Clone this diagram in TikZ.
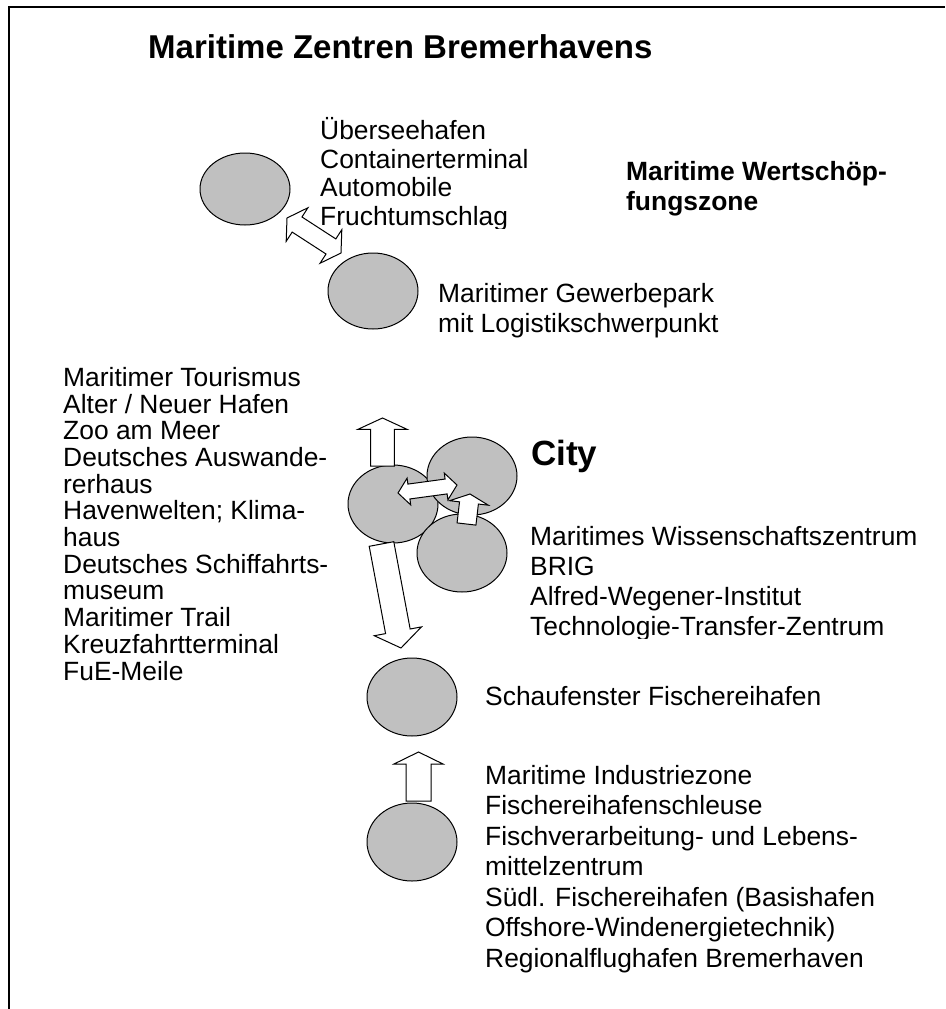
\documentclass[tikz,border=0pt]{standalone}
\usepackage{fontspec}
\setmainfont{Liberation Sans}
\usepackage{tikz}
\usetikzlibrary{shapes,positioning,calc}
\definecolor{zonegray}{HTML}{C0C0C0}

% hollow block arrow: from #1 to #2, shaft half width #3, head half width #4, head length #5
\newcommand{\hollowarrow}[5]{%
  \coordinate (ha-c) at ($(#2)!#5pt!(#1)$);
  \draw[blockarrow] ($(#1)!#3pt!90:(#2)$) -- ($(ha-c)!#3pt!90:(#2)$) -- ($(ha-c)!#4pt!90:(#2)$) -- (#2)
    -- ($(ha-c)!#4pt!-90:(#2)$) -- ($(ha-c)!#3pt!-90:(#2)$) -- ($(#1)!#3pt!-90:(#2)$) -- cycle;}
\newcommand{\hollowdarrow}[5]{%
  \coordinate (ha-a) at ($(#1)!#5pt!(#2)$);
  \coordinate (ha-b) at ($(#2)!#5pt!(#1)$);
  \draw[blockarrow] (#1) -- ($(ha-a)!#4pt!90:(#2)$) -- ($(ha-a)!#3pt!90:(#2)$) -- ($(ha-b)!#3pt!90:(#2)$)
    -- ($(ha-b)!#4pt!90:(#2)$) -- (#2) -- ($(ha-b)!#4pt!-90:(#2)$) -- ($(ha-b)!#3pt!-90:(#2)$)
    -- ($(ha-a)!#3pt!-90:(#2)$) -- ($(ha-a)!#4pt!-90:(#2)$) -- cycle;}

\begin{document}
\begin{tikzpicture}[x=1pt, y=-1pt,
  zonebox/.style={ellipse, draw, line width=1pt, fill=zonegray, minimum width=90pt, minimum height=78pt, inner sep=0pt},
  blockarrow/.style={draw, line width=1pt, fill=white, line join=miter},
  zonetext/.style={anchor=base west, align=left, inner sep=0pt, font=\fontsize{26.4}{30}\selectfont},
  listtext/.style={zonetext, font=\fontsize{26.4}{26.7}\selectfont}]
  \useasboundingbox (0,0) rectangle (945,1009);
  \draw [line width=2pt] (9,1009) -- (9,7) -- (945,7);

  \node [anchor=base west, inner sep=0pt, font=\fontsize{33}{38}\selectfont\bfseries] (title) at (148,58) {Maritime Zentren Bremerhavens};

  % zones
  \node [zonebox, minimum height=72pt] (uebersee) at (245,189) {};
  \node [zonebox, minimum height=76pt] (gewerbe) at (373,291) {};
  \node [zonebox] (tourismus) at (393,504) {};
  \node [zonebox] (city) at (472,476) {};
  \node [zonebox] (wissenschaft) at (462,553) {};
  \node [zonebox] (schaufenster) at (412,697) {};
  \node [zonebox] (industrie) at (412,842) {};

  % arrows
  \coordinate (hafen-a) at (287,218);
  \coordinate (hafen-b) at (341,253);
  \hollowdarrow{hafen-a}{hafen-b}{9}{20}{12}
  \coordinate (tour-base) at (382.5,466);
  \coordinate (tour-tip) at (382.5,418);
  \hollowarrow{tour-base}{tour-tip}{11.8}{24.5}{11.3}
  \coordinate (city-a) at (398,493);
  \coordinate (city-b) at (457,485);
  \hollowdarrow{city-a}{city-b}{7.5}{13.5}{11}
  \coordinate (wiss-base) at (466.5,524);
  \coordinate (wiss-tip) at (470,494);
  \hollowarrow{wiss-base}{wiss-tip}{9.5}{19.5}{9}
  \coordinate (down-base) at (381.5,544);
  \coordinate (down-tip) at (401,648);
  \hollowarrow{down-base}{down-tip}{12.5}{24}{17}
  \coordinate (ind-base) at (418.5,801);
  \coordinate (ind-tip) at (418.5,752);
  \hollowarrow{ind-base}{ind-tip}{12.5}{24.5}{12}

  % texts (anchor = baseline of the last line)
  \begin{scope}
    \clip (300,100) rectangle (620,228);
    \node [zonetext, font=\fontsize{26.4}{28.5}\selectfont] (uebersee-text) at (320,225) {Überseehafen\\Containerterminal\\Automobile\\Fruchtumschlag};
  \end{scope}
  \node [zonetext, font=\fontsize{26.4}{30}\selectfont\bfseries] (zone-text) at (626,210) {Maritime Wertschöp-\\fungszone};
  \node [zonetext] (gewerbe-text) at (438,332) {Maritimer Gewerbepark\\mit Logistikschwerpunkt};
  \node [listtext] (tourismus-text) at (63,680) {Maritimer Tourismus\\Alter / Neuer Hafen\\Zoo am Meer\\Deutsches Auswande-\\rerhaus\\Havenwelten; Klima-\\haus\\Deutsches Schiffahrts-\\museum\\Maritimer Trail\\Kreuzfahrtterminal\\FuE-Meile};
  \node [anchor=base west, inner sep=0pt, font=\fontsize{35}{40}\selectfont\bfseries] (city-text) at (531,465) {City};
  \begin{scope}
    \clip (500,500) rectangle (940,638);
    \node [zonetext] (wissenschaft-text) at (530,635) {Maritimes Wissenschaftszentrum\\BRIG\\Alfred-Wegener-Institut\\Technologie-Transfer-Zentrum};
  \end{scope}
  \node [zonetext] (schaufenster-text) at (485,705) {Schaufenster Fischereihafen};
  \node [zonetext, font=\fontsize{26.4}{30.5}\selectfont] (industrie-text) at (485,967) {Maritime Industriezone\\Fischereihafenschleuse\\Fischverarbeitung- und Lebens-\\mittelzentrum\\Südl. Fischereihafen (Basishafen\\Offshore-Windenergietechnik)\\Regionalflughafen Bremerhaven};
\end{tikzpicture}
\end{document}
